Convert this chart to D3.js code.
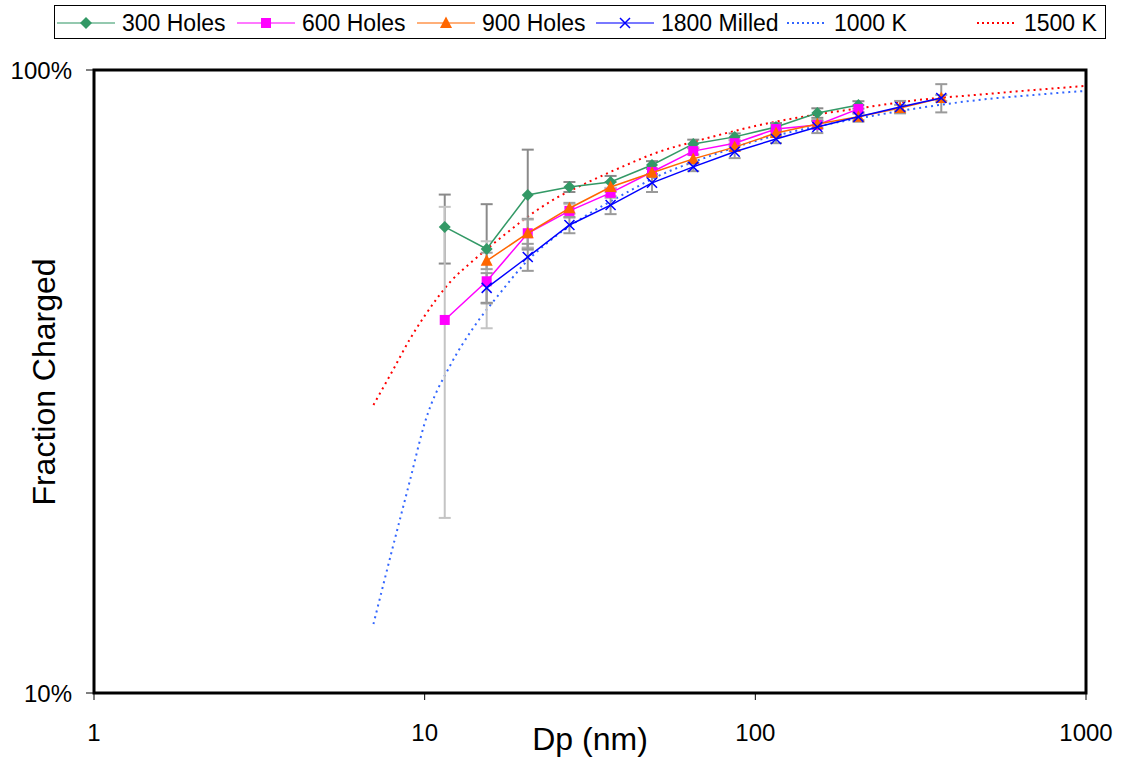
<!DOCTYPE html>
<html>
<head>
<meta charset="utf-8">
<script src="https://cdn.jsdelivr.net/npm/d3@7"></script>
<style>
  body { margin: 0; background: #fff; }
  svg text { font-family: "Liberation Sans", Arial, sans-serif; fill: #000; }
</style>
</head>
<body>
<div id="svg-container"></div>
<script>

// ----------------------------------------------------------------
// Data
// ----------------------------------------------------------------

// particle diameters (nm) of the measured bins
const dpBins = [11.5, 15.4, 20.5, 27.4, 36.5, 48.7, 64.9, 86.6, 115.5, 154, 205, 274, 365];

// measured charged fraction, null = no value
const holes300 = [0.560, 0.516, 0.630, 0.649, 0.661, 0.704, 0.761, 0.781, 0.810, 0.853, 0.879, null, null];
const holes600 = [0.397, 0.458, 0.547, 0.594, 0.635, 0.686, 0.741, 0.763, 0.804, 0.816, 0.866, null, null];
const holes900 = [null, 0.494, 0.547, 0.600, 0.649, 0.684, 0.720, 0.752, 0.792, 0.819, 0.841, 0.869, 0.902];
const milled1800 = [null, 0.447, 0.501, 0.564, 0.607, 0.659, 0.699, 0.739, 0.775, 0.810, 0.841, 0.872, 0.902];

// standard deviations (error bars)
const err300 = [0.071, 0.093, 0.115, 0.012, 0.015, 0.010, 0.012, 0.010, 0.012, 0.015, 0.012, null, null];
const err600 = [0.206, 0.073, 0.028, 0.015, 0.012, 0.010, 0.010, 0.010, 0.012, 0.012, 0.012, null, null];
const err900 = [null, 0.015, 0.030, 0.012, 0.012, 0.010, 0.012, 0.010, 0.010, 0.012, 0.010, 0.010, 0.010];
const err1800 = [null, 0.025, 0.025, 0.017, 0.020, 0.022, 0.011, 0.017, 0.012, 0.018, 0.015, 0.020, 0.047];

// theory curves
const dpTheory = [7, 8, 9, 10, 12, 14, 17, 20, 25, 30, 40, 50, 70, 100, 150, 200, 300, 500, 700, 900, 990];
const theory1000K = [0.129, 0.171, 0.218, 0.271, 0.337, 0.385, 0.440, 0.488, 0.542, 0.579, 0.632, 0.673, 0.722, 0.769, 0.810, 0.834, 0.866, 0.898, 0.912, 0.922, 0.925];
const theory1500K = [0.290, 0.329, 0.369, 0.403, 0.458, 0.494, 0.538, 0.576, 0.623, 0.654, 0.701, 0.736, 0.775, 0.813, 0.847, 0.866, 0.893, 0.915, 0.929, 0.939, 0.943];

const xTicks = [1, 10, 100, 1000];
const yTicks = [0.1, 1];
const yTickLabels = ["10%", "100%"];

// ----------------------------------------------------------------
// Setup
// ----------------------------------------------------------------

const width = 1121;
const height = 757;
const plot = { left: 94, right: 1086, top: 70, bottom: 693 };

const svg = d3.select("#svg-container").append("svg")
  .attr("width", width)
  .attr("height", height);

const x = d3.scaleLog().domain([1, 1000]).range([plot.left, plot.right]);
const y = d3.scaleLog().domain([0.1, 1]).range([plot.bottom, plot.top]);

const series = [
  { name: "300 Holes", values: holes300, err: err300, color: "#339966", errColor: "#8a8a8a", marker: "diamond" },
  { name: "600 Holes", values: holes600, err: err600, color: "#ff00ff", errColor: "#c4c4c4", marker: "square" },
  { name: "900 Holes", values: holes900, err: err900, color: "#ff6600", errColor: "#a0a0a0", marker: "triangle" },
  { name: "1800 Milled", values: milled1800, err: err1800, color: "#0000ff", errColor: "#9a9a9a", marker: "cross" }
];

const theories = [
  { name: "1000 K", values: theory1000K, color: "#3366ff" },
  { name: "1500 K", values: theory1500K, color: "#ff0000" }
];

// ----------------------------------------------------------------
// Functions
// ----------------------------------------------------------------

function drawMarker (g, type, cx, cy, color) {
  if (type === "diamond") {
    g.append("path")
      .attr("d", `M${cx},${cy - 6}L${cx + 6},${cy}L${cx},${cy + 6}L${cx - 6},${cy}Z`)
      .attr("fill", color);
  } else if (type === "square") {
    g.append("rect")
      .attr("x", cx - 5).attr("y", cy - 5)
      .attr("width", 10).attr("height", 10)
      .attr("fill", color);
  } else if (type === "triangle") {
    g.append("path")
      .attr("d", `M${cx},${cy - 6.5}L${cx + 6},${cy + 5}L${cx - 6},${cy + 5}Z`)
      .attr("fill", color);
  } else {
    g.append("path")
      .attr("d", `M${cx - 5},${cy - 5}L${cx + 5},${cy + 5}M${cx + 5},${cy - 5}L${cx - 5},${cy + 5}`)
      .attr("stroke", color)
      .attr("stroke-width", 1.5)
      .attr("fill", "none");
  }
}

function drawAxes () {
  // ticks
  svg.selectAll(".xtick").data(xTicks).enter().append("line")
    .attr("x1", d => x(d)).attr("x2", d => x(d))
    .attr("y1", plot.bottom).attr("y2", plot.bottom + 7)
    .attr("stroke", "#000");
  svg.selectAll(".xlabel").data(xTicks).enter().append("text")
    .attr("x", d => x(d))
    .attr("y", 741)
    .attr("text-anchor", "middle")
    .attr("font-size", 24)
    .text(d => d);

  svg.selectAll(".ytick").data(yTicks).enter().append("line")
    .attr("x1", plot.left - 8).attr("x2", plot.left)
    .attr("y1", d => y(d)).attr("y2", d => y(d))
    .attr("stroke", "#000");
  svg.selectAll(".ylabel").data(yTicks).enter().append("text")
    .attr("x", 72)
    .attr("y", d => y(d) + 9)
    .attr("text-anchor", "end")
    .attr("font-size", 24)
    .text((d, i) => yTickLabels[i]);

  svg.append("text")
    .attr("x", 590).attr("y", 750)
    .attr("text-anchor", "middle")
    .attr("font-size", 32)
    .text("Dp (nm)");

  svg.append("text")
    .attr("transform", "translate(55,382) rotate(-90)")
    .attr("text-anchor", "middle")
    .attr("font-size", 32)
    .text("Fraction Charged");
}

function drawTheory () {
  const line = d3.line()
    .x((d, i) => x(dpTheory[i]))
    .y(d => y(d))
    .curve(d3.curveMonotoneX);
  theories.forEach(t => {
    svg.append("path")
      .attr("d", line(t.values))
      .attr("fill", "none")
      .attr("stroke", t.color)
      .attr("stroke-width", 2)
      .attr("stroke-dasharray", "2,4");
  });
}

function drawSeries () {
  // error bars first
  series.forEach(s => {
    const g = svg.append("g");
    dpBins.forEach((dp, i) => {
      if (s.values[i] === null || s.err[i] === null) return;
      const cx = x(dp);
      const y1 = y(s.values[i] + s.err[i]);
      const y2 = y(s.values[i] - s.err[i]);
      g.append("line").attr("x1", cx).attr("x2", cx).attr("y1", y1).attr("y2", y2)
        .attr("stroke", s.errColor).attr("stroke-width", 2);
      [y1, y2].forEach(yy => {
        g.append("line").attr("x1", cx - 6).attr("x2", cx + 6).attr("y1", yy).attr("y2", yy)
          .attr("stroke", s.errColor).attr("stroke-width", 2);
      });
    });
  });

  const line = d3.line()
    .defined(d => d.v !== null)
    .x(d => x(d.dp))
    .y(d => y(d.v));

  series.forEach(s => {
    const pts = dpBins.map((dp, i) => ({ dp: dp, v: s.values[i] }));
    svg.append("path")
      .attr("d", line(pts))
      .attr("fill", "none")
      .attr("stroke", s.color)
      .attr("stroke-width", 1.5);
    const g = svg.append("g");
    pts.filter(p => p.v !== null).forEach(p => drawMarker(g, s.marker, x(p.dp), y(p.v), s.color));
  });
}

function drawLegend () {
  svg.append("rect")
    .attr("x", 54.5).attr("y", 5.5)
    .attr("width", 1051).attr("height", 33)
    .attr("fill", "#fff")
    .attr("stroke", "#000");

  // line start positions of each legend entry
  const starts = [57, 237, 417, 596];
  series.forEach((s, i) => {
    const x0 = starts[i];
    const g = svg.append("g");
    g.append("line").attr("x1", x0).attr("x2", x0 + 58).attr("y1", 23).attr("y2", 23)
      .attr("stroke", s.color).attr("stroke-width", 1.5).attr("stroke-opacity", 0.7);
    drawMarker(g, s.marker, x0 + 29, 23, s.color);
    g.append("text").attr("x", x0 + 65).attr("y", 31).attr("font-size", 23).text(s.name);
  });
  const tStarts = [787, 977];
  theories.forEach((t, i) => {
    const x0 = tStarts[i];
    svg.append("line").attr("x1", x0).attr("x2", x0 + 40).attr("y1", 23).attr("y2", 23)
      .attr("stroke", t.color).attr("stroke-width", 2).attr("stroke-dasharray", "2,3");
    svg.append("text").attr("x", x0 + 47).attr("y", 31).attr("font-size", 23).text(t.name);
  });
}

// ----------------------------------------------------------------
// On execution
// ----------------------------------------------------------------

drawTheory();
drawSeries();

svg.append("rect")
  .attr("x", plot.left).attr("y", plot.top)
  .attr("width", plot.right - plot.left).attr("height", plot.bottom - plot.top)
  .attr("fill", "none")
  .attr("stroke", "#000")
  .attr("stroke-width", 3);

drawAxes();
drawLegend();

</script>
</body>
</html>
